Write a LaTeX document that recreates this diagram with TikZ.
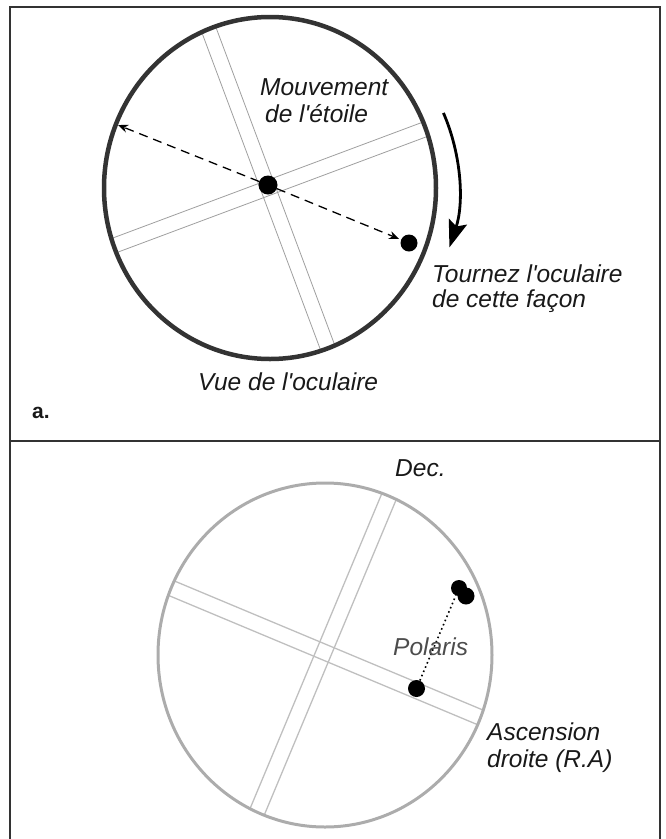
\documentclass[tikz,border=0pt]{standalone}
\usepackage{fontspec}
\setmainfont{Liberation Sans}
\usetikzlibrary{arrows.meta, positioning}

\begin{document}
\begin{tikzpicture}[
    x=1pt, y=-1pt,
    lbl/.style={font=\itshape\fontsize{24.5}{27}\selectfont, text=black!90, inner sep=0pt, anchor=base west},
    star/.style={circle, fill=black, inner sep=0pt},
    frameline/.style={draw=black!80, line width=1.4pt},
    hair/.style={draw=gray!75, line width=0.8pt},
    softhair/.style={draw=gray!50, line width=1.3pt},
    dasharrow/.style={-{Stealth[length=10pt, width=8pt]}, line width=1.3pt, dash pattern=on 9pt off 6pt},
    turnarrow/.style={-{Stealth[length=27pt, width=19pt, inset=5pt]}, line width=2.8pt}
]
\useasboundingbox (0,0) rectangle (665,839);

% frame and divider
\draw[frameline] (10,839) -- (10,7) -- (660,7) -- (660,839);
\draw[frameline, line width=2pt] (10,441) -- (660,441);

% a. eyepiece view
\coordinate (topc) at (270,188);
\begin{scope}
    \clip (topc) ellipse [x radius=166pt, y radius=171pt];
    \begin{scope}[shift={(268,188)}, rotate=20.5]
        \draw[hair] (-250,-7.5) -- (250,-7.5) (-250,7.5) -- (250,7.5);
        \draw[hair] (-7.5,-250) -- (-7.5,250) (7.5,-250) -- (7.5,250);
    \end{scope}
\end{scope}
\draw[draw=black!80, line width=4.5pt] (topc) ellipse [x radius=166pt, y radius=171pt];

\node[star, minimum size=19pt] (ctrstar) at (268,185) {};
\node[star, minimum size=17pt] (movestar) at (409,243) {};
\coordinate (lefttip) at (118,125);
\draw[dasharrow] (ctrstar) -- (lefttip);
\draw[dasharrow, shorten >=2pt] (ctrstar) -- (movestar);

\coordinate (turnstart) at ([shift={(-23.4:189)}]topc);
\draw[turnarrow] (turnstart) arc[start angle=-23.4, end angle=18.3, radius=189];

\node[lbl] (mvt) at (260,95) {Mouvement};
\node[lbl] (etoile) at (265,122) {de l\textquotesingle étoile};
\node[lbl] (tourn) at (432,282) {Tournez l\textquotesingle oculaire};
\node[lbl] (facon) at (432,307) {de cette façon};
\node[lbl] (vue) at (198,390) {Vue de l\textquotesingle oculaire};
\node[lbl, font=\bfseries\fontsize{21}{24}\selectfont] (parta) at (32,418) {a.};

% b. Polaris view
\coordinate (botc) at (325,655);
\begin{scope}
    \clip (botc) ellipse [x radius=167pt, y radius=172pt];
    \begin{scope}[shift={(324,652)}, rotate=-22.7]
        \draw[softhair] (-250,-7.8) -- (250,-7.8) (-250,7.8) -- (250,7.8);
        \draw[softhair] (-7.8,-250) -- (-7.8,250) (7.8,-250) -- (7.8,250);
    \end{scope}
\end{scope}
\draw[draw=gray!65, line width=3pt] (botc) ellipse [x radius=167pt, y radius=172pt];

\node[star, minimum size=16pt] (polup) at (459,588) {};
\node[star, minimum size=17pt] (polup2) at (466,596) {};
\node[star, minimum size=17pt] (pollow) at (416.5,688.5) {};
\draw[line width=1.6pt, dash pattern=on 1.6pt off 3pt] (pollow) -- (polup);

\node[lbl] (dec) at (395,476) {Dec.};
\node[lbl, text=black!70] (polaris) at (393,655) {Polaris};
\node[lbl] (ascen) at (487,740) {Ascension};
\node[lbl] (droite) at (487,767) {droite (R.A)};
\end{tikzpicture}
\end{document}
